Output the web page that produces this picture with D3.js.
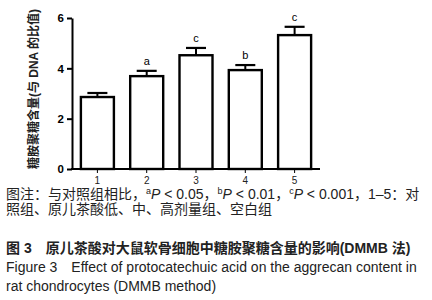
<html>
<head>
<meta charset="utf-8">
<script src="https://cdn.jsdelivr.net/npm/d3@7/dist/d3.min.js"></script>
<style>
body { margin: 0; background: #fff; }
svg text { font-family: "Liberation Sans", Arial, "Noto Sans CJK SC", sans-serif; }
.cap { font-size: 14px; fill: #222; }
.yaxis path, .yaxis line, .xaxis path, .xaxis line { stroke: #000; }
</style>
</head>
<body>
<svg id="chart" width="432" height="300"></svg>
<script>
// 组别与数值
var groups = ["1", "2", "3", "4", "5"];
var means = [2.86, 3.69, 4.52, 3.93, 5.32];
var errs = [0.16, 0.21, 0.29, 0.2, 0.33];
var marks = ["", "a", "c", "b", "c"];
var yTicks = [0, 2, 4, 6];

var svg = d3.select("#chart");
var margin = {top: 18, left: 72, right: 112, bottom: 131};
var width = 432 - margin.left - margin.right,
    height = 300 - margin.top - margin.bottom;

var g = svg.append("g").attr("transform", `translate(${margin.left},${margin.top})`);

var x = d3.scaleBand().domain(groups).range([0, width]).paddingInner(0.29).paddingOuter(0.16);
var y = d3.scaleLinear().domain([0, 6]).range([height, 0]);

// 误差线
var cap = 10;
g.selectAll(".err").data(groups).enter().append("line")
    .attr("x1", d => x(d) + x.bandwidth() / 2)
    .attr("x2", d => x(d) + x.bandwidth() / 2)
    .attr("y1", (d, i) => y(means[i]))
    .attr("y2", (d, i) => y(means[i] + errs[i]))
    .attr("stroke", "#000").attr("stroke-width", 2);
g.selectAll(".errcap").data(groups).enter().append("line")
    .attr("x1", d => x(d) + x.bandwidth() / 2 - cap)
    .attr("x2", d => x(d) + x.bandwidth() / 2 + cap)
    .attr("y1", (d, i) => y(means[i] + errs[i]))
    .attr("y2", (d, i) => y(means[i] + errs[i]))
    .attr("stroke", "#000").attr("stroke-width", 2.2);

// 柱子
g.selectAll(".bar").data(groups).enter().append("rect")
    .attr("x", d => x(d) + 1)
    .attr("y", (d, i) => y(means[i]))
    .attr("width", x.bandwidth() - 2)
    .attr("height", (d, i) => height - y(means[i]))
    .attr("fill", "#fff").attr("stroke", "#000").attr("stroke-width", 2.4);

// 显著性标记
g.selectAll(".mark").data(groups).enter().append("text")
    .attr("x", d => x(d) + x.bandwidth() / 2)
    .attr("y", (d, i) => y(means[i] + errs[i]) - 6)
    .attr("text-anchor", "middle")
    .attr("font-size", 11)
    .text((d, i) => marks[i]);

// 坐标轴
var yAxis = g.append("g").attr("class", "yaxis")
    .call(d3.axisLeft(y).tickValues(yTicks).tickFormat(d3.format("d")).tickSize(5).tickSizeOuter(0).tickPadding(3));
yAxis.select("path").attr("stroke-width", 2);
yAxis.selectAll("line").attr("stroke-width", 2);
yAxis.selectAll("text").attr("font-size", 11.5).attr("font-weight", "bold");

var xAxis = g.append("g").attr("class", "xaxis")
    .attr("transform", `translate(0,${height})`)
    .call(d3.axisBottom(x).tickSize(4).tickSizeOuter(0).tickPadding(4));
xAxis.select("path").attr("stroke-width", 2).attr("d", `M-1,0H${width}`);
xAxis.selectAll("line").attr("stroke-width", 1);
xAxis.selectAll("text").attr("font-size", 10).attr("fill", "#222");

svg.append("text")
    .attr("transform", `translate(38,${margin.top + 71}) rotate(-90)`)
    .attr("text-anchor", "middle")
    .attr("font-size", 12)
    .attr("font-weight", "bold")
    .attr("fill", "#222")
    .text("糖胺聚糖含量(与 DNA 的比值)");

// 图注
var c1 = svg.append("text").attr("class", "cap").attr("x", 6).attr("y", 199);
c1.append("tspan").text("图注：与对照组相比，");
c1.append("tspan").attr("font-size", 9).attr("dy", -5).text("a");
c1.append("tspan").attr("font-style", "italic").attr("dy", 5).text("P");
c1.append("tspan").text(" < 0.05，");
c1.append("tspan").attr("font-size", 9).attr("dy", -5).text("b");
c1.append("tspan").attr("font-style", "italic").attr("dy", 5).text("P");
c1.append("tspan").text(" < 0.01，");
c1.append("tspan").attr("font-size", 9).attr("dy", -5).text("c");
c1.append("tspan").attr("font-style", "italic").attr("dy", 5).text("P");
c1.append("tspan").text(" < 0.001，1–5：对");

svg.append("text").attr("class", "cap").attr("x", 6).attr("y", 214)
    .text("照组、原儿茶酸低、中、高剂量组、空白组");
svg.append("text").attr("class", "cap").attr("x", 6).attr("y", 253)
    .attr("font-weight", "bold")
    .text("图 3　原儿茶酸对大鼠软骨细胞中糖胺聚糖含量的影响(DMMB 法)");
svg.append("text").attr("class", "cap").attr("x", 6).attr("y", 272)
    .attr("font-size", 13.8)
    .text("Figure 3　Effect of protocatechuic acid on the aggrecan content in");
svg.append("text").attr("class", "cap").attr("x", 6).attr("y", 291)
    .attr("font-size", 13.8)
    .text("rat chondrocytes (DMMB method)");
</script>
</body>
</html>
